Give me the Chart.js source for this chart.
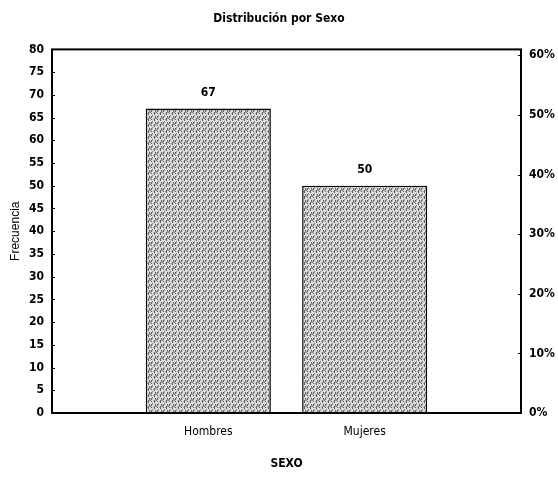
<!DOCTYPE html>
<html>
<head>
<meta charset="utf-8">
<script src="https://cdn.jsdelivr.net/npm/chart.js@4.4.1/dist/chart.umd.min.js"></script>
<style>
  html, body { margin: 0; padding: 0; background: #fff; }
  #wrap { width: 558px; height: 480px; }
</style>
</head>
<body>
<div id="wrap"><canvas id="c" width="558" height="480"></canvas></div>
<script>
// Frequency by sex
const categories = ['Hombres', 'Mujeres'];
const frecuencia = [67, 50];
const countTicks = [0, 5, 10, 15, 20, 25, 30, 35, 40, 45, 50, 55, 60, 65, 70, 75, 80];
const pctTicks = [0, 10, 20, 30, 40, 50, 60];

const narrow = '"DejaVu Sans Condensed", "Liberation Sans Narrow", "Liberation Sans", sans-serif';

// Mottled hatched fill for the bars
function makePattern() {
  const t = document.createElement('canvas');
  t.width = 6; t.height = 6;
  const g = t.getContext('2d');
  g.fillStyle = '#dcdcdc';
  g.fillRect(0, 0, 6, 6);
  g.strokeStyle = '#2a2a2a';
  g.lineWidth = 1;
  g.beginPath();
  g.moveTo(0.5, 4.5); g.lineTo(2.5, 1.5);
  g.moveTo(3.5, 6.5); g.lineTo(5.5, 3.5);
  g.stroke();
  g.fillStyle = '#5a5a5a';
  g.fillRect(4, 0, 1, 1);
  g.fillRect(1, 5, 1, 1);
  g.fillRect(5, 2, 1, 1);
  return document.getElementById('c').getContext('2d').createPattern(t, 'repeat');
}

// Blank slots on each side so the two bars sit at one and two thirds of the width
const labels = [''].concat(categories, ['']);
const values = [null].concat(frecuencia, [null]);

const framePlugin = {
  id: 'frame',
  afterDraw(chart) {
    const ctx = chart.ctx;
    const a = chart.chartArea;
    ctx.save();
    ctx.strokeStyle = '#000';
    ctx.lineWidth = 2;
    ctx.strokeRect(a.left, a.top, a.right - a.left, a.bottom - a.top);
    // inward tick marks
    ctx.lineWidth = 1;
    const y = chart.scales.y, y2 = chart.scales.y2;
    ctx.beginPath();
    countTicks.forEach(v => {
      const p = Math.round(y.getPixelForValue(v)) + 0.5;
      ctx.moveTo(a.left, p); ctx.lineTo(a.left + 3, p);
    });
    pctTicks.forEach(v => {
      const p = Math.round(y2.getPixelForValue(v)) + 0.5;
      ctx.moveTo(a.right, p); ctx.lineTo(a.right - 3, p);
    });
    ctx.stroke();
    ctx.restore();
  },
  afterDatasetsDraw(chart) {
    const ctx = chart.ctx;
    const meta = chart.getDatasetMeta(0);
    ctx.save();
    ctx.fillStyle = '#000';
    ctx.font = 'bold 12px ' + narrow;
    ctx.textAlign = 'center';
    ctx.textBaseline = 'middle';
    meta.data.forEach((el, i) => {
      const v = chart.data.datasets[0].data[i];
      if (v == null) return;
      ctx.fillText(String(v), el.x, el.y - 16);
    });
    ctx.restore();
  }
};

new Chart(document.getElementById('c'), {
  type: 'bar',
  data: {
    labels: labels,
    datasets: [{
      data: values,
      backgroundColor: makePattern(),
      borderColor: '#000',
      borderWidth: 1.5,
      borderSkipped: 'bottom',
      categoryPercentage: 1,
      barPercentage: 0.8,
      yAxisID: 'y'
    }]
  },
  options: {
    responsive: false,
    animation: false,
    layout: { padding: 0 },
    plugins: {
      legend: { display: false },
      tooltip: { enabled: false },
      title: {
        display: true,
        text: 'Distribución por Sexo',
        color: '#000',
        font: { family: narrow, size: 12, weight: 'bold' },
        padding: { top: 12, bottom: 23 }
      }
    },
    scales: {
      x: {
        offset: false,
        grid: { display: false, drawTicks: false },
        border: { display: false },
        ticks: {
          color: '#000',
          font: { family: narrow, size: 12, weight: 'normal' },
          padding: 12,
          autoSkip: false,
          maxRotation: 0
        },
        title: {
          display: true,
          text: 'SEXO',
          color: '#000',
          font: { family: narrow, size: 12, weight: 'bold' },
          padding: { top: 0, bottom: 9 }
        },
        afterFit(s) { s.height = 67; }
      },
      y: {
        position: 'left',
        min: 0,
        max: 80,
        grid: { display: false, drawTicks: false },
        border: { display: false },
        ticks: {
          stepSize: 5,
          color: '#000',
          font: { family: narrow, size: 12, weight: 'bold' },
          padding: 8
        },
        title: {
          display: true,
          text: 'Frecuencia',
          color: '#000',
          font: { family: '"Liberation Sans", Arial, sans-serif', size: 12, weight: 'normal' },
          padding: { top: 8, bottom: 0 }
        },
        afterBuildTicks(s) { s.ticks = countTicks.map(v => ({ value: v })); },
        afterFit(s) { s.width = 52; }
      },
      y2: {
        display: true,
        position: 'right',
        min: 0,
        max: 61,
        grid: { display: false, drawTicks: false },
        border: { display: false },
        ticks: {
          color: '#000',
          font: { family: narrow, size: 12, weight: 'bold' },
          padding: 8,
          callback: v => v + '%'
        },
        afterBuildTicks(s) { s.ticks = pctTicks.map(v => ({ value: v })); },
        afterFit(s) { s.width = 37; }
      }
    }
  },
  plugins: [framePlugin]
});
</script>
</body>
</html>
